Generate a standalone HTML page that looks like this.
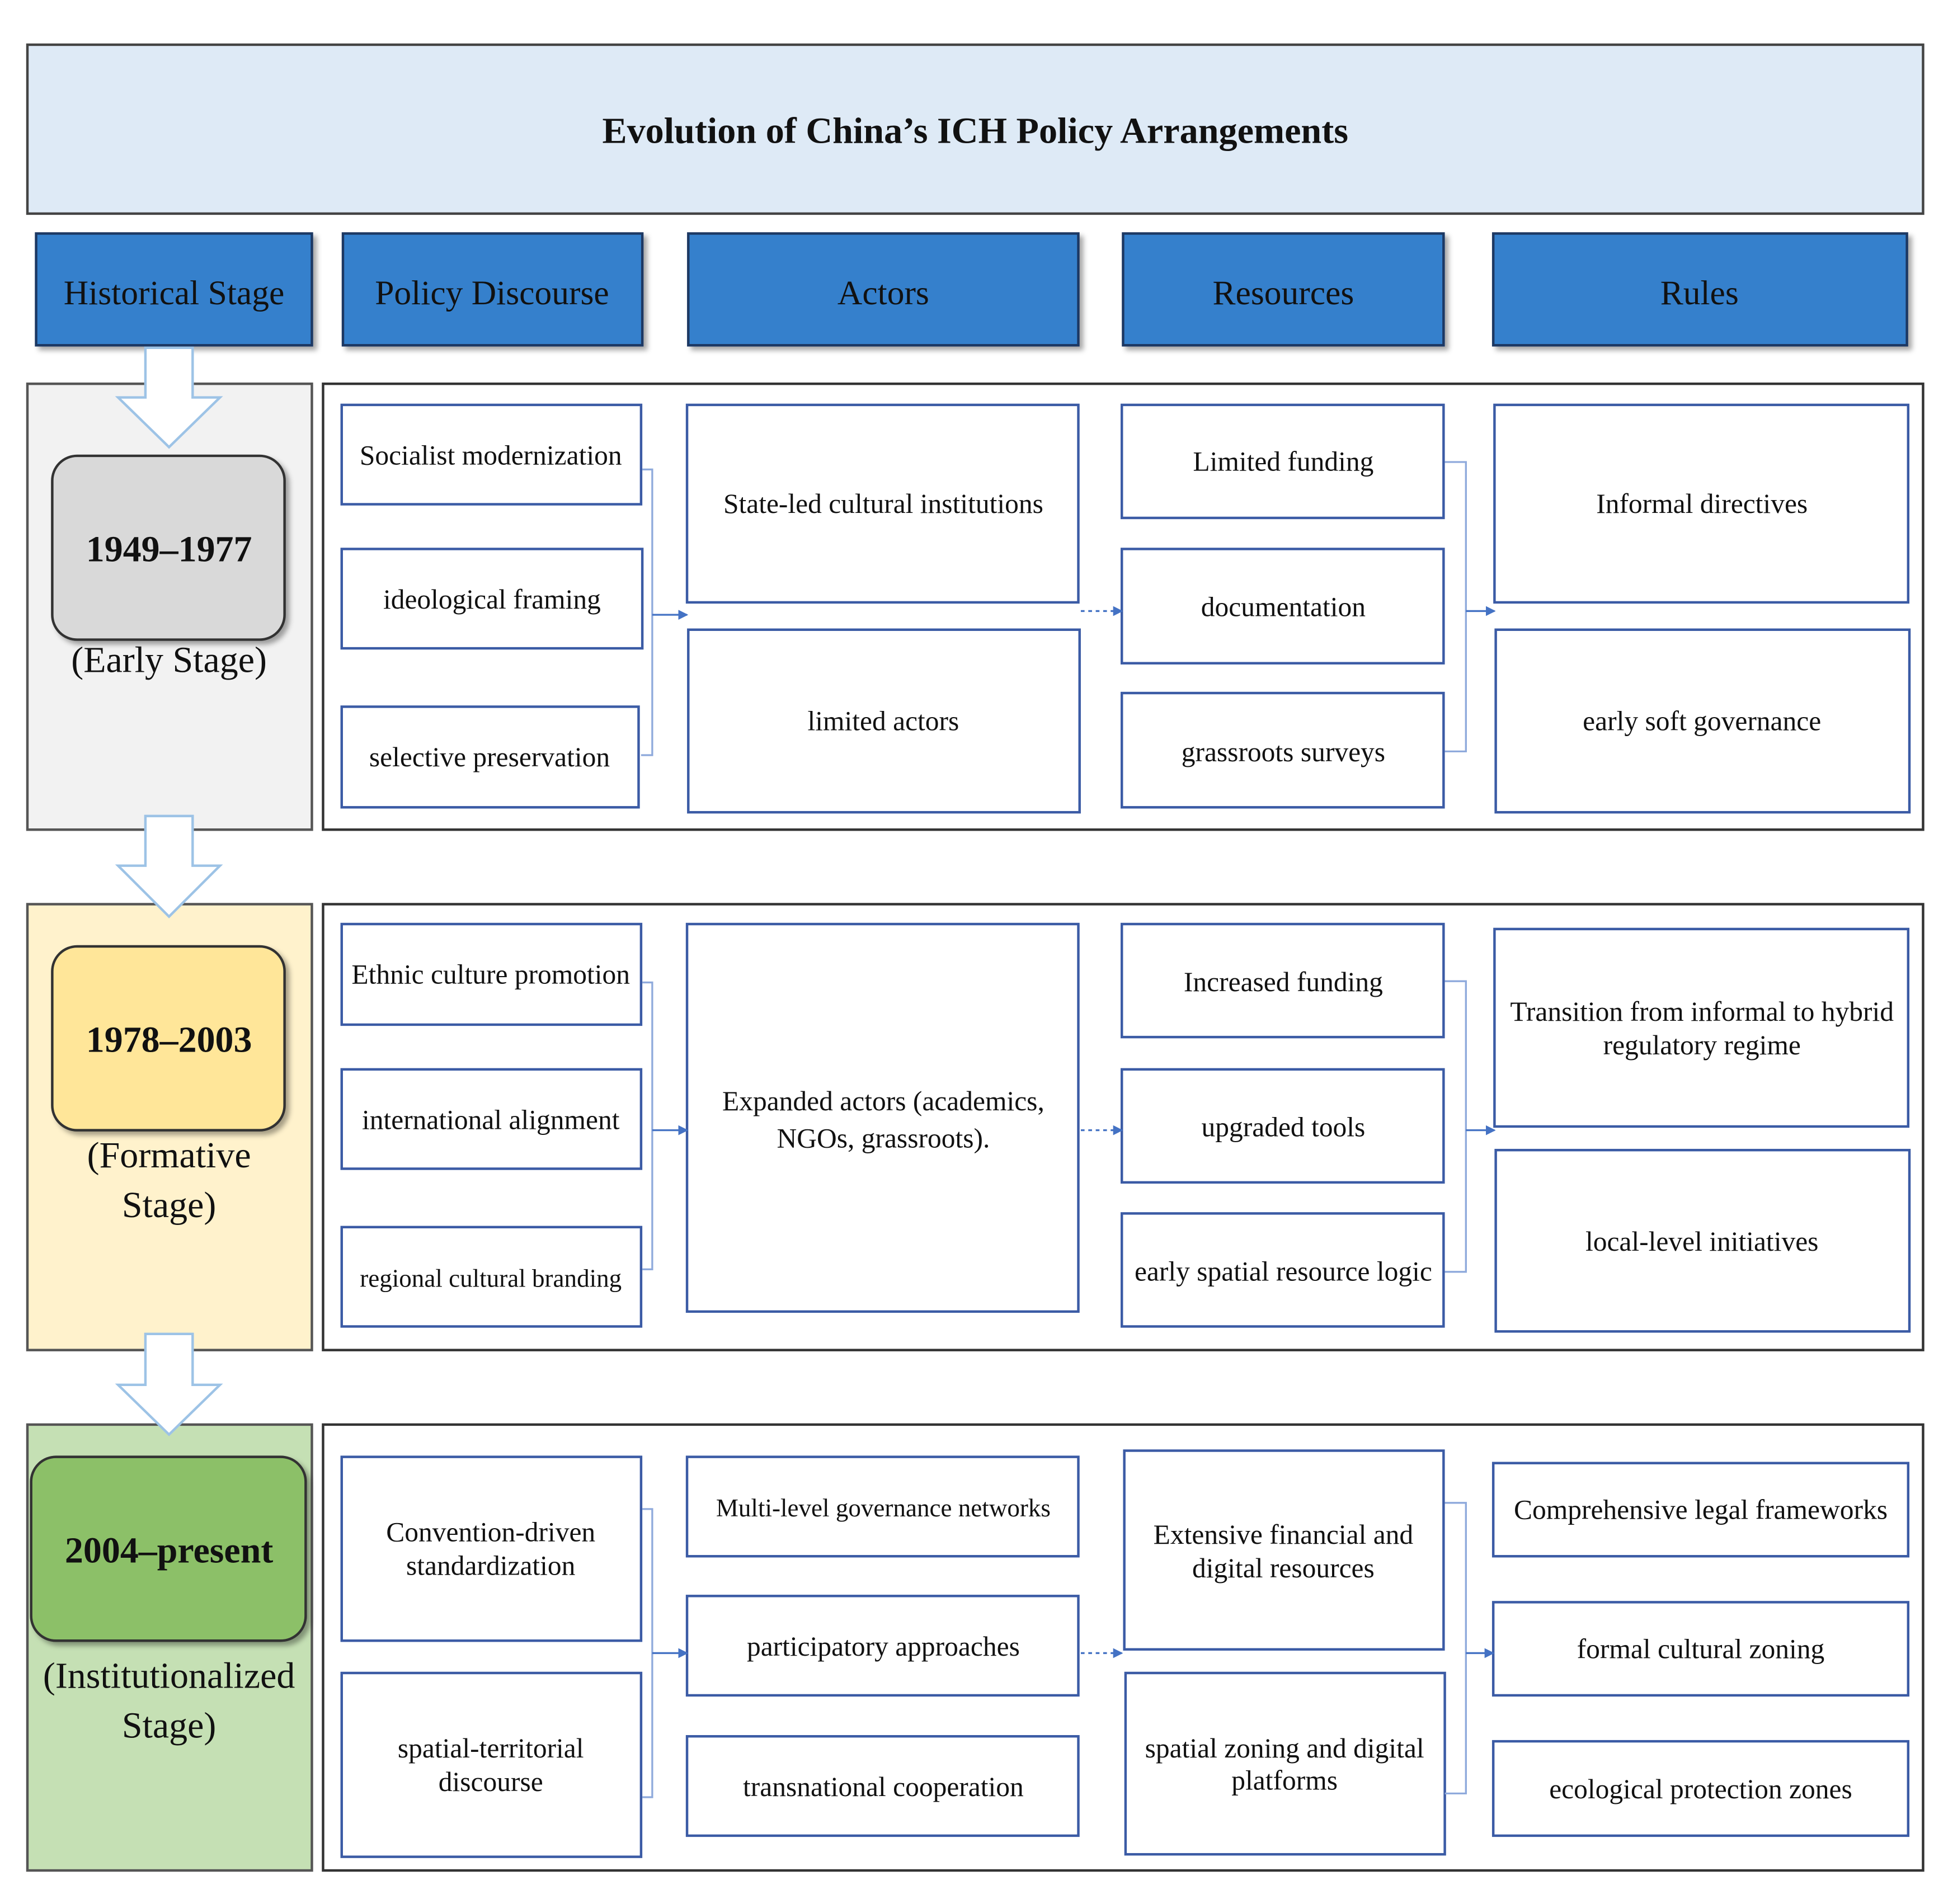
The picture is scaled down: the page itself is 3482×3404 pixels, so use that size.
<!DOCTYPE html>
<html><head><meta charset="utf-8"><style>
html,body{margin:0;padding:0;background:#fff}
svg{display:block}
text{font-family:"Liberation Serif",serif;fill:#111}
</style></head><body>
<svg width="3482" height="3404" viewBox="0 0 1568 1533" xmlns="http://www.w3.org/2000/svg">
<defs>
<filter id="sh" x="-5%" y="-5%" width="115%" height="120%"><feDropShadow dx="3" dy="3" stdDeviation="2" flood-color="#000" flood-opacity="0.35"/></filter>
<marker id="ah" markerWidth="8" markerHeight="8" refX="7" refY="4" orient="auto" markerUnits="userSpaceOnUse"><path d="M0,0 L8,4 L0,8 z" fill="#4472c4"/></marker>
</defs>
<rect x="22" y="36" width="1526" height="136" fill="#deeaf6" stroke="#444" stroke-width="2"/>
<text x="785" y="115" font-size="29.8" font-weight="bold" text-anchor="middle">Evolution of China’s ICH Policy Arrangements</text>
<g fill="#3580cc" stroke="#1f3864" stroke-width="2" filter="url(#sh)">
<rect x="29" y="188" width="222" height="90"/><rect x="276" y="188" width="241" height="90"/><rect x="554" y="188" width="314" height="90"/><rect x="904" y="188" width="258" height="90"/><rect x="1202" y="188" width="333" height="90"/>
</g>
<g font-size="27.7" text-anchor="middle">
<text x="140" y="245">Historical Stage</text><text x="396" y="245">Policy Discourse</text><text x="711" y="245">Actors</text><text x="1033" y="245">Resources</text><text x="1368" y="245">Rules</text>
</g>
<rect x="22" y="309" width="229" height="359" fill="#f2f2f2" stroke="#555" stroke-width="2"/>
<rect x="260" y="309" width="1288" height="359" fill="#fff" stroke="#333" stroke-width="2"/>
<rect x="22" y="728" width="229" height="359" fill="#fff2cc" stroke="#555" stroke-width="2"/>
<rect x="260" y="728" width="1288" height="359" fill="#fff" stroke="#333" stroke-width="2"/>
<rect x="22" y="1147" width="229" height="359" fill="#c5e0b4" stroke="#555" stroke-width="2"/>
<rect x="260" y="1147" width="1288" height="359" fill="#fff" stroke="#333" stroke-width="2"/>
<g fill="#fff" stroke="#9dc3e6" stroke-width="2">
<path d="M117,280 L155,280 L155,320 L177,320 L136,360 L95,320 L117,320 Z"/>
<path d="M117,657 L155,657 L155,697 L177,697 L136,738 L95,697 L117,697 Z"/>
<path d="M117,1074 L155,1074 L155,1115 L177,1115 L136,1155 L95,1115 L117,1115 Z"/>
</g>
<g stroke="#333" stroke-width="2" filter="url(#sh)">
<rect x="42" y="367" width="187" height="148" rx="20" fill="#d9d9d9"/>
<rect x="42" y="762" width="187" height="148" rx="20" fill="#ffe699"/>
<rect x="25" y="1173" width="221" height="148" rx="20" fill="#8cc068"/>
</g>
<g font-size="29.7" text-anchor="middle">
<text x="136" y="452" font-weight="bold">1949–1977</text><text x="136" y="541">(Early Stage)</text>
<text x="136" y="847" font-weight="bold">1978–2003</text><text x="136" y="940">(Formative</text><text x="136" y="980">Stage)</text>
<text x="136" y="1258" font-weight="bold">2004–present</text><text x="136" y="1359">(Institutionalized</text><text x="136" y="1399">Stage)</text>
</g>
<g fill="#fff" stroke="#3b5ba5" stroke-width="2">
<rect x="275" y="326" width="241" height="80"/><rect x="275" y="442" width="242" height="80"/><rect x="275" y="569" width="239" height="81"/>
<rect x="553" y="326" width="315" height="159"/><rect x="554" y="507" width="315" height="147"/>
<rect x="903" y="326" width="259" height="91"/><rect x="903" y="442" width="259" height="92"/><rect x="903" y="558" width="259" height="92"/>
<rect x="1203" y="326" width="333" height="159"/><rect x="1204" y="507" width="333" height="147"/>
<rect x="275" y="744" width="241" height="81"/><rect x="275" y="861" width="241" height="80"/><rect x="275" y="988" width="241" height="80"/>
<rect x="553" y="744" width="315" height="312"/>
<rect x="903" y="744" width="259" height="91"/><rect x="903" y="861" width="259" height="91"/><rect x="903" y="977" width="259" height="91"/>
<rect x="1203" y="748" width="333" height="159"/><rect x="1204" y="926" width="333" height="146"/>
<rect x="275" y="1173" width="241" height="148"/><rect x="275" y="1347" width="241" height="148"/>
<rect x="553" y="1173" width="315" height="80"/><rect x="553" y="1285" width="315" height="80"/><rect x="553" y="1398" width="315" height="80"/>
<rect x="905" y="1168" width="257" height="160"/><rect x="906" y="1347" width="257" height="146"/>
<rect x="1202" y="1178" width="334" height="75"/><rect x="1202" y="1290" width="334" height="75"/><rect x="1202" y="1402" width="334" height="76"/>
</g>
<g fill="none" stroke="#8faadc" stroke-width="1.5">
<path d="M517,378 H525 V608 H516"/><path d="M1163,372 H1180 V605 H1163"/>
<path d="M517,791 H525 V1022 H517"/><path d="M1163,790 H1180 V1024 H1163"/>
<path d="M517,1215 H525 V1447 H517"/><path d="M1163,1210 H1180 V1444 H1163"/>
</g>
<g stroke="#4472c4" stroke-width="1.5" fill="none" marker-end="url(#ah)">
<path d="M525,495 H553"/><path d="M1180,492 H1203"/>
<path d="M525,910 H553"/><path d="M1180,910 H1203"/>
<path d="M525,1331 H553"/><path d="M1180,1331 H1202"/>
<path d="M870,492 H903" stroke-dasharray="3,3"/><path d="M870,910 H903" stroke-dasharray="3,3"/><path d="M870,1331 H903" stroke-dasharray="3,3"/>
</g>
<g font-size="22.3" text-anchor="middle">
<text x="395" y="374">Socialist modernization</text><text x="396" y="490">ideological framing</text><text x="394" y="617">selective preservation</text>
<text x="711" y="413">State-led cultural institutions</text><text x="711" y="588">limited actors</text>
<text x="1033" y="379">Limited funding</text><text x="1033" y="496">documentation</text><text x="1033" y="613">grassroots surveys</text>
<text x="1370" y="413">Informal directives</text><text x="1370" y="588">early soft governance</text>
<text x="395" y="792">Ethnic culture promotion</text><text x="395" y="909">international alignment</text><text x="395" y="1036" font-size="20.3">regional cultural branding</text>
<text x="711" y="894">Expanded actors (academics,</text><text x="711" y="924">NGOs, grassroots).</text>
<text x="1033" y="798">Increased funding</text><text x="1033" y="915">upgraded tools</text><text x="1033" y="1031">early spatial resource logic</text>
<text x="1370" y="822">Transition from informal to hybrid</text><text x="1370" y="849">regulatory regime</text><text x="1370" y="1007">local-level initiatives</text>
<text x="395" y="1241">Convention-driven</text><text x="395" y="1268">standardization</text>
<text x="395" y="1415">spatial-territorial</text><text x="395" y="1442">discourse</text>
<text x="711" y="1221" font-size="20.3">Multi-level governance networks</text><text x="711" y="1333">participatory approaches</text><text x="711" y="1446">transnational cooperation</text>
<text x="1033" y="1243">Extensive financial and</text><text x="1033" y="1270">digital resources</text>
<text x="1034" y="1415">spatial zoning and digital</text><text x="1034" y="1441">platforms</text>
<text x="1369" y="1223">Comprehensive legal frameworks</text><text x="1369" y="1335">formal cultural zoning</text><text x="1369" y="1448">ecological protection zones</text>
</g>
</svg>
</body></html>
